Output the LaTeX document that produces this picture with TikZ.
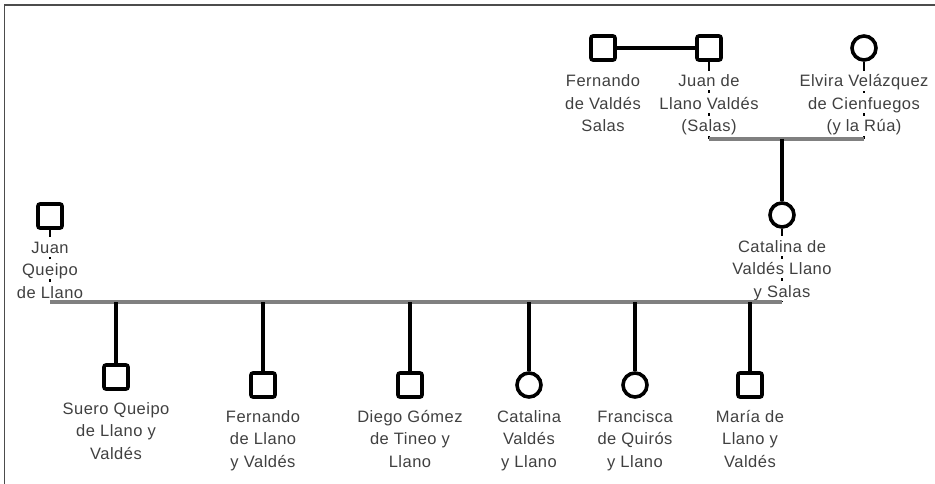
\documentclass[tikz,border=0pt]{standalone}
\usepackage{fontspec}
\setmainfont[LetterSpace=3]{Liberation Sans}
\usetikzlibrary{positioning}
\newcommand{\wl}[1]{{\setlength{\fboxsep}{0.5pt}\colorbox{white}{\rule[-3pt]{0pt}{18.5pt}#1}}}

\begin{document}
\begin{tikzpicture}[x=1pt,y=1pt,node distance=7pt,
    male/.style={rectangle,draw,line width=3.6pt,minimum size=24pt,inner sep=0pt,rounded corners=2pt},
    female/.style={circle,draw,line width=3.6pt,minimum size=24pt,inner sep=0pt},
    who/.style={align=center,inner sep=0pt,text=black!75,font=\fontsize{16.5}{22.5}\selectfont},
    link/.style={line width=3.6pt},
    hidden/.style={line width=2pt},
    bar/.style={line width=3.6pt,black!50}]
    \useasboundingbox (0,0) rectangle (935,-484);
    \draw[black!70,line width=1.5pt] (4.5,-484) |- (935,-5);

    % parents
    \node[male] (fvs) at (603,-48) {};
    \node[male] (jll) at (709,-48) {};
    \node[female] (evc) at (864,-48) {};
    \node[female] (cvl) at (782,-215) {};
    \node[male] (jql) at (50,-216) {};

    % children
    \node[male] (c1) at (116,-377) {};
    \node[male] (c2) at (263,-385) {};
    \node[male] (c3) at (410,-385) {};
    \node[female] (c4) at (529,-385) {};
    \node[female] (c5) at (635,-385) {};
    \node[male] (c6) at (750,-385) {};

    \coordinate (bar1) at (0,-139);
    \coordinate (bar2) at (0,-302);

    \draw[hidden] (jll.south) -- (jll |- bar1);
    \draw[hidden] (evc.south) -- (evc |- bar1);
    \draw[hidden] (cvl.south) -- (cvl |- bar2);
    \draw[hidden] (jql.south) -- (jql |- bar2);

    \node[who,below=9pt of fvs] (l-fvs) {\wl{Fernando}\\\wl{de Valdés}\\\wl{Salas}};
    \node[who,below=9pt of jll] (l-jll) {\wl{Juan de}\\\wl{Llano Valdés}\\\wl{(Salas)}};
    \node[who,below=9pt of evc] (l-evc) {\wl{Elvira Velázquez}\\\wl{de Cienfuegos}\\\wl{(y la Rúa)}};
    \node[who,below=of cvl] (l-cvl) {\wl{Catalina de}\\\wl{Valdés Llano}\\\wl{y Salas}};
    \node[who,below=of jql] (l-jql) {\wl{Juan}\\\wl{Queipo}\\\wl{de Llano}};
    \node[who,below=of c1] (l-c1) {\wl{Suero Queipo}\\\wl{de Llano y}\\\wl{Valdés}};
    \node[who,below=of c2] (l-c2) {\wl{Fernando}\\\wl{de Llano}\\\wl{y Valdés}};
    \node[who,below=of c3] (l-c3) {\wl{Diego Gómez}\\\wl{de Tineo y}\\\wl{Llano}};
    \node[who,below=of c4] (l-c4) {\wl{Catalina}\\\wl{Valdés}\\\wl{y Llano}};
    \node[who,below=of c5] (l-c5) {\wl{Francisca}\\\wl{de Quirós}\\\wl{y Llano}};
    \node[who,below=of c6] (l-c6) {\wl{María de}\\\wl{Llano y}\\\wl{Valdés}};

    \draw[link] (fvs) -- (jll);
    \draw[bar] (jll |- bar1) -- (evc |- bar1);
    \draw[link] (cvl |- bar1) -- (cvl);
    \draw[bar] (jql |- bar2) -- (cvl |- bar2);
    \foreach \k in {c1,c2,c3,c4,c5,c6}
      \draw[link] (\k |- bar2) -- (\k);
\end{tikzpicture}
\end{document}
